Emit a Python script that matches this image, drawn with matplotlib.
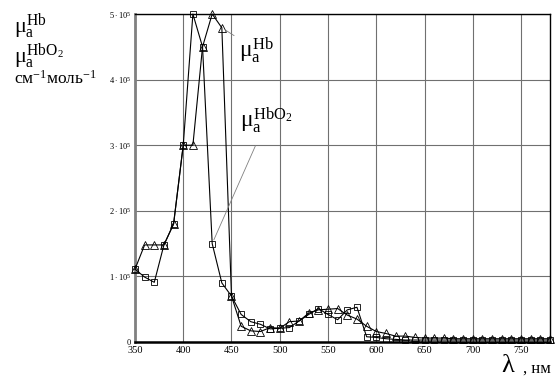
import matplotlib
matplotlib.use("Agg")
import matplotlib.pyplot as plt
from matplotlib.ticker import FixedLocator

# ------------------ DATA ------------------

wavelength = list(range(350, 790, 10))

# Hb (triangles), units of 1e5 cm-1 mol-1
hb = [1.11, 1.48, 1.48, 1.48, 1.80, 3.00, 3.00, 4.50, 5.00, 4.79,
      0.70, 0.24, 0.17, 0.16, 0.22, 0.21, 0.31, 0.32, 0.44, 0.49,
      0.50, 0.51, 0.41, 0.35, 0.24, 0.16, 0.13, 0.09, 0.09, 0.07,
      0.06, 0.06, 0.06, 0.05, 0.05, 0.05, 0.05, 0.05, 0.05, 0.05,
      0.05, 0.05, 0.05, 0.05]

# HbO2 (squares)
hbo2 = [1.11, 0.99, 0.91, 1.48, 1.80, 3.00, 5.00, 4.50, 1.50, 0.90,
        0.70, 0.42, 0.31, 0.27, 0.20, 0.21, 0.22, 0.32, 0.42, 0.51,
        0.42, 0.34, 0.49, 0.53, 0.08, 0.07, 0.05, 0.04, 0.03, 0.03,
        0.03, 0.03, 0.03, 0.03, 0.03, 0.03, 0.03, 0.03, 0.03, 0.03,
        0.03, 0.03, 0.03, 0.03]

x_ticks = [350, 400, 450, 500, 550, 600, 650, 700, 750]
y_ticks = [0, 1, 2, 3, 4, 5]
y_tick_labels = ["0", r"$1\cdot10^5$", r"$2\cdot10^5$", r"$3\cdot10^5$",
                 r"$4\cdot10^5$", r"$5\cdot10^5$"]

# ------------------ STYLE ------------------

plt.rcParams["font.family"] = ["Liberation Serif", "DejaVu Serif"]
plt.rcParams["mathtext.fontset"] = "custom"
plt.rcParams["mathtext.rm"] = "Liberation Serif"
plt.rcParams["mathtext.it"] = "Liberation Serif"
plt.rcParams["mathtext.bf"] = "Liberation Serif:bold"

# ------------------ PLOT ------------------

fig = plt.figure(figsize=(5.55, 3.79), dpi=100)
ax = fig.add_axes([0.2432, 0.0976, 0.991 - 0.2432, 0.963 - 0.0976])

scale = 1e5
ax.plot(wavelength, [v * scale for v in hb], color="black", lw=0.8,
        marker="^", markersize=5.5, markerfacecolor="none",
        markeredgewidth=0.6, clip_on=False, zorder=3)
ax.plot(wavelength, [v * scale for v in hbo2], color="black", lw=0.8,
        marker="s", markersize=4.8, markerfacecolor="none",
        markeredgewidth=0.6, clip_on=False, zorder=3)

ax.set_xlim(350, 780)
ax.set_ylim(0, 5 * scale)

ax.xaxis.set_major_locator(FixedLocator(x_ticks))
ax.set_xticklabels([str(t) for t in x_ticks], fontsize=7.5)
ax.yaxis.set_major_locator(FixedLocator([t * scale for t in y_ticks]))
ax.set_yticklabels(y_tick_labels, fontsize=6)
ax.tick_params(length=0, pad=3)

ax.grid(True, color="#707070", lw=0.8)
ax.set_axisbelow(True)

ax.spines["left"].set_color("#808080")
ax.spines["left"].set_linewidth(2)
ax.spines["bottom"].set_color("black")
ax.spines["bottom"].set_linewidth(1.8)
ax.spines["top"].set_linewidth(1)
ax.spines["right"].set_linewidth(1)

# curve labels with leader lines
ax.annotate(r"$\mu_\mathrm{a}^{\mathrm{Hb}}$", xy=(440, 4.79 * scale),
            xytext=(458, 4.45 * scale), fontsize=17, va="center",
            arrowprops=dict(arrowstyle="-", color="#808080", lw=0.6,
                            shrinkA=2, shrinkB=3))
ax.annotate(r"$\mu_\mathrm{a}^{\mathrm{HbO_2}}$", xy=(430, 1.5 * scale),
            xytext=(459, 3.38 * scale), fontsize=17, va="center",
            arrowprops=dict(arrowstyle="-", color="#808080", lw=0.6,
                            shrinkA=6, shrinkB=3))

# y axis title (left)
fig.text(0.025, 0.913, r"$\mu_\mathrm{a}^{\mathrm{Hb}}$", fontsize=16,
         va="baseline", ha="left")
fig.text(0.025, 0.834, r"$\mu_\mathrm{a}^{\mathrm{HbO_2}}$", fontsize=16,
         va="baseline", ha="left")
fig.text(0.025, 0.778, r"$\mathrm{см}^{\mathrm{-1}}\mathrm{моль}^{\mathrm{-1}}$",
         fontsize=12.5, va="baseline", ha="left")

# x axis title (bottom right)
fig.text(0.902, 0.018, r"$\lambda$", fontsize=19, va="baseline", ha="left")
fig.text(0.992, 0.018, ", нм", fontsize=12, va="baseline", ha="right")

fig.savefig("out.png", dpi=100)
